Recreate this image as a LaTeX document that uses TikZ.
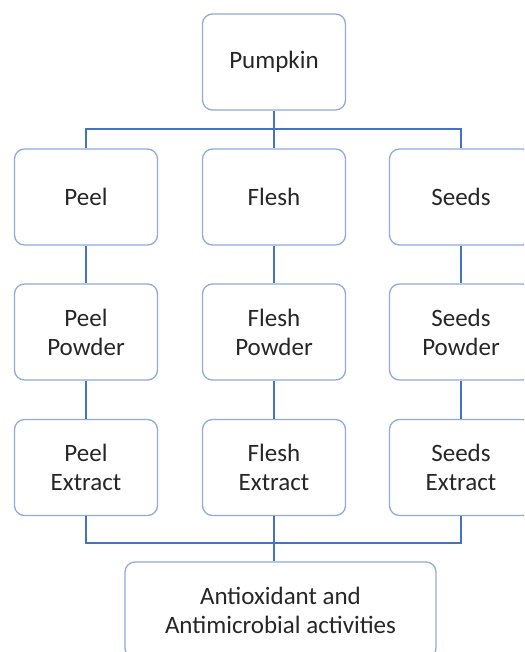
\documentclass[tikz,border=0pt]{standalone}
\usepackage{fontspec}
\setmainfont{Carlito}
\usepackage{tikz}
\definecolor{boxblue}{RGB}{143,170,220}
\definecolor{lineblue}{RGB}{68,114,196}

\begin{document}
\begin{tikzpicture}
  [x=1pt,y=-1pt,
   every node/.style={draw=boxblue,line width=1.3pt,rounded corners=10pt,
     minimum width=143pt,minimum height=96pt,align=center,
     font=\fontsize{25}{29}\selectfont,text=black!85}]

  \tikzstyle{wide} = [minimum width=311pt]
  \tikzstyle{link} = [draw=lineblue,line width=1.2pt]

  \clip (0,0) rectangle (524,652);

  \node        (pump) at (274,62)  {Pumpkin};

  \node        (pe)   at (86,197)  {Peel};
  \node        (fl)   at (274,197) {Flesh};
  \node        (se)   at (461,197) {Seeds};

  \node        (pep)  at (86,332)  {Peel\\Powder};
  \node        (flp)  at (274,332) {Flesh\\Powder};
  \node        (sep)  at (461,332) {Seeds\\Powder};

  \node        (pex)  at (86,467.5)  {Peel\\Extract};
  \node        (flx)  at (274,467.5) {Flesh\\Extract};
  \node        (sex)  at (461,467.5) {Seeds\\Extract};

  \node[wide]  (act)  at (280.5,610) {Antioxidant and\\Antimicrobial activities};

  \coordinate (top) at (274,129);
  \coordinate (bot) at (274,543);

  \path[link]
        (pump) -- (top)
        (pe.north) |- (top) -| (se.north)
        (top) -- (fl.north)
        (pe) -- (pep)
        (fl) -- (flp)
        (se) -- (sep)
        (pep) -- (pex)
        (flp) -- (flx)
        (sep) -- (sex)
        (pex.south) |- (bot) -| (sex.south)
        (flx.south) -- (flx.south |- act.north);
\end{tikzpicture}
\end{document}
